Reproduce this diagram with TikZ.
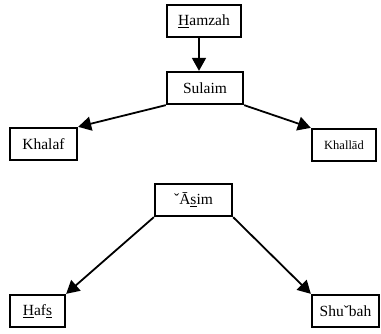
\documentclass[tikz,border=0pt]{standalone}
\usepackage{fontspec}
\setmainfont{Liberation Serif}
\usetikzlibrary{arrows.meta}
\begin{document}
\begin{tikzpicture}[x=1pt,y=-1pt,
  box/.style={draw,line width=1.8pt,rectangle,inner sep=0pt,minimum height=32.5pt},
  big/.style={font={\fontsize{15.5pt}{17pt}\selectfont}},
  small/.style={font={\fontsize{12.5pt}{14pt}\selectfont}},
  arr/.style={line width=1.8pt,-{Triangle[length=13pt,width=14pt]}}]
\useasboundingbox (0,0) rectangle (381,333);
\node[box,big,minimum width=74.5pt] (H) at (204,21) {\underline{H}amzah};
\node[box,big,minimum width=76.5pt] (S) at (205,88) {Sulaim};
\node[box,big,minimum width=67.5pt] (K) at (43.5,144) {Khalaf};
\node[box,small,minimum width=64.5pt] (KD) at (344,145) {Khall\=ad};
\node[box,big,minimum width=77.5pt] (A) at (193.5,200) {ˇ\=A\underline{s}im};
\node[box,big,minimum width=55.5pt] (HF) at (37.5,311) {\underline{H}af\underline{s}};
\node[box,big,minimum width=67.5pt] (SH) at (345.5,311) {Shuˇbah};
\draw[arr] ([xshift=-5pt]H.south) -- ([xshift=-6pt]S.north);
\draw[arr] (S.south west) -- (K.north east);
\draw[arr] (S.south east) -- (KD.north west);
\draw[arr] (A.south west) -- (HF.north east);
\draw[arr] (A.south east) -- (SH.north west);
\end{tikzpicture}
\end{document}
